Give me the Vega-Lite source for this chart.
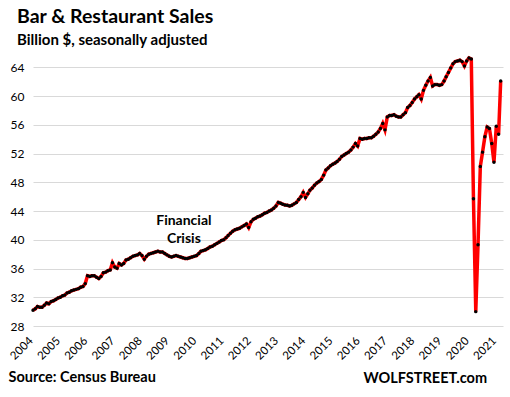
{
  "$schema": "https://vega.github.io/schema/vega-lite/v6.json",
  "width": 470,
  "height": 273,
  "autosize": {"type": "none"},
  "padding": {"left": 33, "top": 53, "right": 7, "bottom": 71},
  "background": "white",
  "title": {
    "text": "Bar & Restaurant Sales",
    "subtitle": "Billion $, seasonally adjusted",
    "anchor": "start",
    "frame": "group",
    "dx": -16,
    "offset": 2,
    "font": "Lato",
    "fontSize": 19.5,
    "fontWeight": "bold",
    "color": "#000000",
    "subtitleFont": "Lato",
    "subtitleFontSize": 15,
    "subtitleFontWeight": "bold",
    "subtitleColor": "#000000",
    "subtitlePadding": 6
  },
  "config": {"view": {"stroke": null}},
  "data": {
    "format": {"parse": {"d": "date:'%Y-%m'"}},
    "values": [
      {"d":"2004-01","v":30.2},{"d":"2004-02","v":30.4},{"d":"2004-03","v":30.7},{"d":"2004-04","v":30.6},{"d":"2004-05","v":30.6},{"d":"2004-06","v":30.9},{"d":"2004-07","v":31.2},{"d":"2004-08","v":31.1},{"d":"2004-09","v":31.4},{"d":"2004-10","v":31.5},{"d":"2004-11","v":31.7},{"d":"2004-12","v":31.9},
      {"d":"2005-01","v":32.0},{"d":"2005-02","v":32.2},{"d":"2005-03","v":32.3},{"d":"2005-04","v":32.6},{"d":"2005-05","v":32.7},{"d":"2005-06","v":32.9},{"d":"2005-07","v":33.0},{"d":"2005-08","v":33.1},{"d":"2005-09","v":33.2},{"d":"2005-10","v":33.4},{"d":"2005-11","v":33.5},{"d":"2005-12","v":33.9},
      {"d":"2006-01","v":35.0},{"d":"2006-02","v":34.9},{"d":"2006-03","v":35.0},{"d":"2006-04","v":35.0},{"d":"2006-05","v":34.8},{"d":"2006-06","v":34.6},{"d":"2006-07","v":34.9},{"d":"2006-08","v":35.4},{"d":"2006-09","v":35.5},{"d":"2006-10","v":35.7},{"d":"2006-11","v":35.8},{"d":"2006-12","v":36.8},
      {"d":"2007-01","v":36.2},{"d":"2007-02","v":36.05},{"d":"2007-03","v":36.7},{"d":"2007-04","v":36.5},{"d":"2007-05","v":36.7},{"d":"2007-06","v":37.2},{"d":"2007-07","v":37.3},{"d":"2007-08","v":37.5},{"d":"2007-09","v":37.7},{"d":"2007-10","v":37.8},{"d":"2007-11","v":37.9},{"d":"2007-12","v":38.1},
      {"d":"2008-01","v":37.8},{"d":"2008-02","v":37.3},{"d":"2008-03","v":37.7},{"d":"2008-04","v":38.0},{"d":"2008-05","v":38.1},{"d":"2008-06","v":38.2},{"d":"2008-07","v":38.3},{"d":"2008-08","v":38.4},{"d":"2008-09","v":38.3},{"d":"2008-10","v":38.3},{"d":"2008-11","v":38.1},{"d":"2008-12","v":37.9},
      {"d":"2009-01","v":37.7},{"d":"2009-02","v":37.6},{"d":"2009-03","v":37.7},{"d":"2009-04","v":37.8},{"d":"2009-05","v":37.7},{"d":"2009-06","v":37.6},{"d":"2009-07","v":37.5},{"d":"2009-08","v":37.4},{"d":"2009-09","v":37.4},{"d":"2009-10","v":37.5},{"d":"2009-11","v":37.6},{"d":"2009-12","v":37.7},
      {"d":"2010-01","v":37.8},{"d":"2010-02","v":38.1},{"d":"2010-03","v":38.4},{"d":"2010-04","v":38.5},{"d":"2010-05","v":38.6},{"d":"2010-06","v":38.8},{"d":"2010-07","v":39.0},{"d":"2010-08","v":39.1},{"d":"2010-09","v":39.3},{"d":"2010-10","v":39.5},{"d":"2010-11","v":39.7},{"d":"2010-12","v":39.9},
      {"d":"2011-01","v":40.0},{"d":"2011-02","v":40.3},{"d":"2011-03","v":40.6},{"d":"2011-04","v":40.9},{"d":"2011-05","v":41.2},{"d":"2011-06","v":41.4},{"d":"2011-07","v":41.5},{"d":"2011-08","v":41.6},{"d":"2011-09","v":41.8},{"d":"2011-10","v":42.0},{"d":"2011-11","v":42.2},{"d":"2011-12","v":41.7},
      {"d":"2012-01","v":42.5},{"d":"2012-02","v":42.85},{"d":"2012-03","v":43.0},{"d":"2012-04","v":43.2},{"d":"2012-05","v":43.3},{"d":"2012-06","v":43.5},{"d":"2012-07","v":43.7},{"d":"2012-08","v":43.8},{"d":"2012-09","v":44.0},{"d":"2012-10","v":44.15},{"d":"2012-11","v":44.4},{"d":"2012-12","v":44.7},
      {"d":"2013-01","v":45.2},{"d":"2013-02","v":45.1},{"d":"2013-03","v":44.95},{"d":"2013-04","v":44.85},{"d":"2013-05","v":44.8},{"d":"2013-06","v":44.7},{"d":"2013-07","v":44.8},{"d":"2013-08","v":45.0},{"d":"2013-09","v":45.2},{"d":"2013-10","v":45.6},{"d":"2013-11","v":46.0},{"d":"2013-12","v":46.6},
      {"d":"2014-01","v":45.9},{"d":"2014-02","v":46.4},{"d":"2014-03","v":46.9},{"d":"2014-04","v":47.2},{"d":"2014-05","v":47.6},{"d":"2014-06","v":47.9},{"d":"2014-07","v":48.1},{"d":"2014-08","v":48.4},{"d":"2014-09","v":49.0},{"d":"2014-10","v":49.7},{"d":"2014-11","v":50.0},{"d":"2014-12","v":50.3},
      {"d":"2015-01","v":50.5},{"d":"2015-02","v":50.7},{"d":"2015-03","v":50.9},{"d":"2015-04","v":51.2},{"d":"2015-05","v":51.6},{"d":"2015-06","v":51.8},{"d":"2015-07","v":52.0},{"d":"2015-08","v":52.2},{"d":"2015-09","v":52.5},{"d":"2015-10","v":52.9},{"d":"2015-11","v":53.4},{"d":"2015-12","v":53.05},
      {"d":"2016-01","v":54.1},{"d":"2016-02","v":54.0},{"d":"2016-03","v":54.1},{"d":"2016-04","v":54.1},{"d":"2016-05","v":54.2},{"d":"2016-06","v":54.2},{"d":"2016-07","v":54.4},{"d":"2016-08","v":54.7},{"d":"2016-09","v":55.0},{"d":"2016-10","v":55.5},{"d":"2016-11","v":56.2},{"d":"2016-12","v":55.3},
      {"d":"2017-01","v":57.1},{"d":"2017-02","v":57.3},{"d":"2017-03","v":57.3},{"d":"2017-04","v":57.4},{"d":"2017-05","v":57.2},{"d":"2017-06","v":57.1},{"d":"2017-07","v":57.1},{"d":"2017-08","v":57.4},{"d":"2017-09","v":57.7},{"d":"2017-10","v":58.4},{"d":"2017-11","v":58.7},{"d":"2017-12","v":59.1},
      {"d":"2018-01","v":59.6},{"d":"2018-02","v":59.9},{"d":"2018-03","v":60.2},{"d":"2018-04","v":59.6},{"d":"2018-05","v":60.8},{"d":"2018-06","v":61.5},{"d":"2018-07","v":62.1},{"d":"2018-08","v":62.6},{"d":"2018-09","v":61.4},{"d":"2018-10","v":61.6},{"d":"2018-11","v":61.6},{"d":"2018-12","v":61.5},
      {"d":"2019-01","v":61.6},{"d":"2019-02","v":62.1},{"d":"2019-03","v":62.7},{"d":"2019-04","v":63.3},{"d":"2019-05","v":63.9},{"d":"2019-06","v":64.5},{"d":"2019-07","v":64.8},{"d":"2019-08","v":64.9},{"d":"2019-09","v":65.0},{"d":"2019-10","v":64.8},{"d":"2019-11","v":64.2},{"d":"2019-12","v":64.9},
      {"d":"2020-01","v":65.3},{"d":"2020-02","v":65.15},{"d":"2020-03","v":45.7},{"d":"2020-04","v":30.0},{"d":"2020-05","v":39.3},{"d":"2020-06","v":50.2},{"d":"2020-07","v":52.2},{"d":"2020-08","v":54.35},{"d":"2020-09","v":55.7},{"d":"2020-10","v":55.5},{"d":"2020-11","v":53.4},{"d":"2020-12","v":50.8},
      {"d":"2021-01","v":55.8},{"d":"2021-02","v":54.7},{"d":"2021-03","v":62.1}
    ]
  },
  "encoding": {
    "x": {
      "field": "d",
      "type": "temporal",
      "scale": {"domain": [{"year": 2004, "month": 1, "date": 1}, {"year": 2021, "month": 4, "date": 1}]},
      "axis": {
        "title": "Source: Census Bureau",
        "titleX": -25,
        "titleY": 55,
        "titleAlign": "left",
        "titleAnchor": null,
        "titleBaseline": "alphabetic",
        "titleFont": "Lato",
        "titleFontSize": 14.5,
        "titleFontWeight": "bold",
        "titleColor": "#000000",
        "tickCount": {"interval": "year", "step": 1},
        "format": "%Y",
        "labelAngle": -45,
        "labelAlign": "right",
        "labelBaseline": "middle",
        "labelPadding": 13,
        "labelOffset": -2,
        "labelFont": "Lato",
        "labelFontSize": 11.5,
        "labelColor": "#000000",
        "labelOverlap": false,
        "labelFlush": false,
        "ticks": false,
        "domain": false,
        "grid": false
      }
    },
    "y": {
      "field": "v",
      "type": "quantitative",
      "scale": {"domain": [28, 66], "nice": false, "zero": false},
      "axis": {
        "title": "WOLFSTREET.com",
        "titleAngle": 0,
        "titleX": 330,
        "titleY": 329,
        "titleAlign": "left",
        "titleAnchor": null,
        "titleBaseline": "alphabetic",
        "titleFont": "Lato",
        "titleFontSize": 14.5,
        "titleFontWeight": "bold",
        "titleColor": "#000000",
        "values": [28, 32, 36, 40, 44, 48, 52, 56, 60, 64],
        "labelFont": "Lato",
        "labelFontSize": 12,
        "labelColor": "#000000",
        "labelPadding": 9,
        "ticks": false,
        "domain": false,
        "grid": true,
        "gridColor": "#d9d9d9",
        "gridWidth": 1
      }
    }
  },
  "layer": [
    {"mark": {"type": "line", "color": "#ff0000", "strokeWidth": 3.5, "clip": false}},
    {"mark": {"type": "point", "filled": true, "color": "#000000", "size": 12, "opacity": 1}},
    {
      "data": {"values": [{"d": "2009-07-15", "v": 42.1, "t": ["Financial", "Crisis"]}]},
      "mark": {"type": "text", "font": "Lato", "fontSize": 14, "fontWeight": "bold", "color": "#000000", "align": "center", "baseline": "alphabetic", "lineHeight": 18},
      "encoding": {
        "x": {"field": "d", "type": "temporal"},
        "y": {"field": "v", "type": "quantitative"},
        "text": {"field": "t"}
      }
    }
  ]
}
